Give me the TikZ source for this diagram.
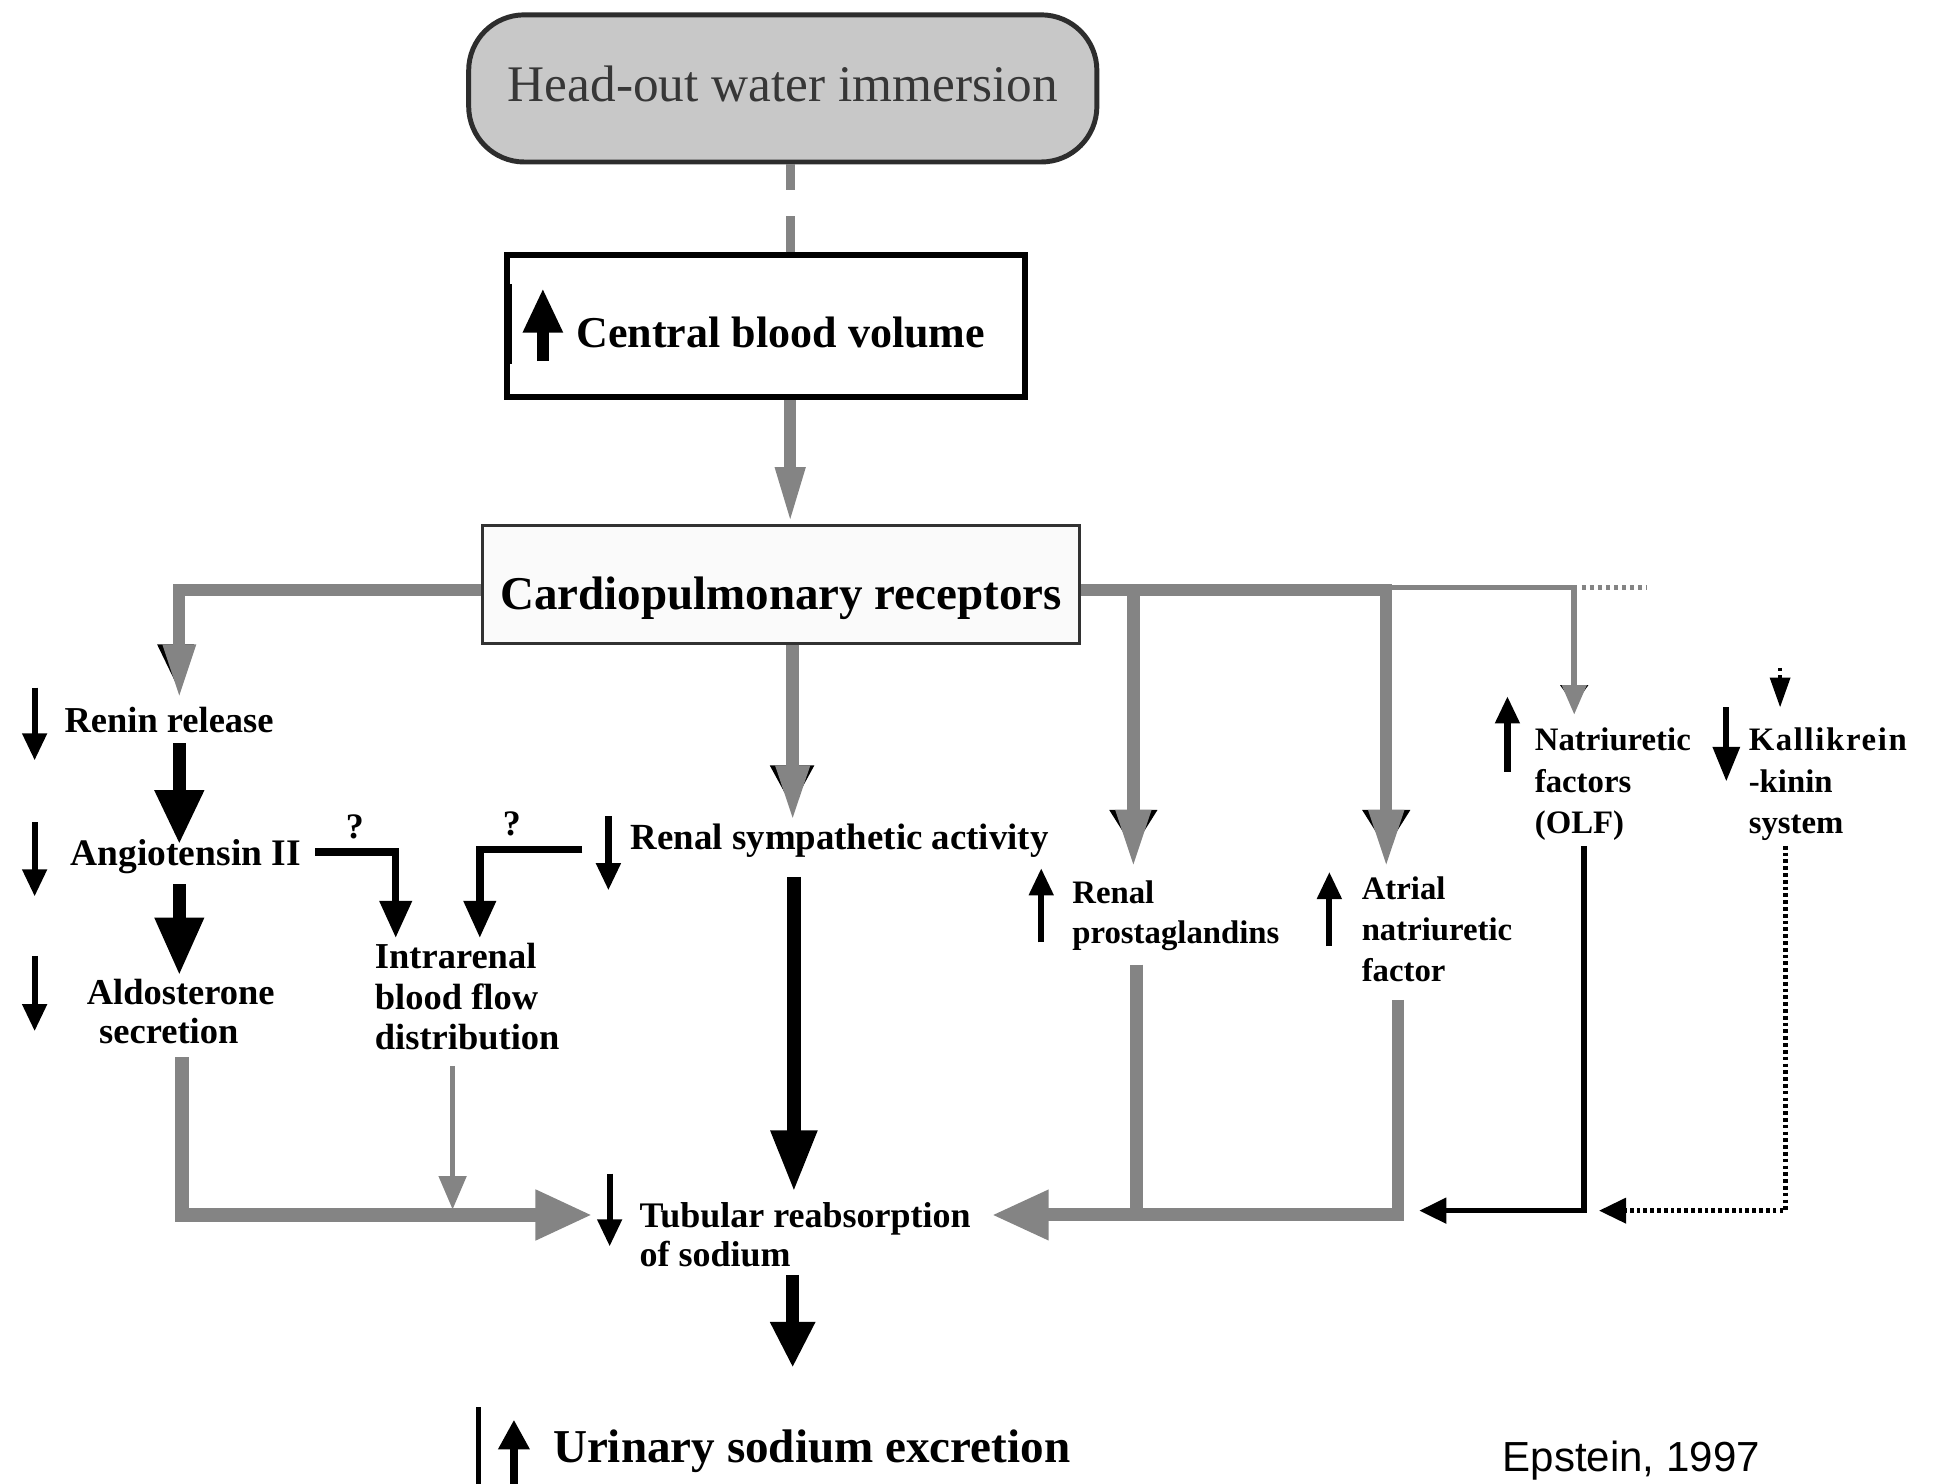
\documentclass[tikz,border=0pt]{standalone}
\usepackage{fontspec}
\setmainfont{Liberation Serif}
\newfontfamily\epsfont{Liberation Sans}
\usetikzlibrary{arrows.meta}
\definecolor{gcol}{RGB}{132,132,132}
\definecolor{headfill}{RGB}{200,200,200}
\definecolor{headbd}{RGB}{45,45,45}
\definecolor{headtxt}{RGB}{55,55,55}
\definecolor{cardbd}{RGB}{50,50,50}
\definecolor{cardfill}{RGB}{250,250,250}
\newcommand\mlines[1]{\begin{tabular}[t]{@{}l@{}}#1\end{tabular}}
\newcommand\fsz[2]{\fontsize{#1}{#2}\selectfont}
\begin{document}
\begin{tikzpicture}[x=1pt,y=-1pt,
  lbl/.style={inner sep=0pt, anchor=base west, font=\bfseries\fsz{29.5}{33}},
  rlbl/.style={lbl, font=\bfseries\fsz{26.5}{33.5}},
  ind/.style={draw=black, line width=5pt, -{Triangle[width=19pt,length=22pt]}},
  gline/.style={draw=gcol, line width=10pt},
  bline/.style={draw=black, line width=11pt},
  thinb/.style={draw=black, line width=6pt, -{Triangle[width=25pt,length=30pt]}}
]
\useasboundingbox (0,0) rectangle (1568,1200);

% ---------- boxes ----------
\node[draw=headbd, line width=4pt, fill=headfill, rounded corners=45pt,
      minimum width=508pt, minimum height=119pt, inner sep=0pt,
      text height=30pt, text depth=9.6pt, font=\fsz{41.5}{45}, text=headtxt]
      (head) at (633,71.5) {Head-out water immersion};
\node[draw=black, line width=4.5pt, minimum width=419pt, minimum height=115pt, inner sep=0pt]
      (cbv) at (619.5,263.75) {};
\fill[black] (408,230) rectangle (414,294);
\draw[black, line width=10pt, -{Triangle[width=30pt,length=36pt]}] (439,292) -- (439,233);
\node[lbl, font=\bfseries\fsz{35.6}{40}] (cbvt) at (466,281) {Central blood volume};
\node[draw=cardbd, line width=2.5pt, fill=cardfill, minimum width=483pt, minimum height=95pt,
      inner sep=0pt, text height=48pt, text depth=7pt, font=\bfseries\fsz{38}{42}]
      (cardio) at (631.5,472.5) {Cardiopulmonary receptors};

% ---------- labels ----------
\node[lbl] (renin) at (52,592) {Renin release};
\node[lbl, font=\bfseries\fsz{30.3}{33}] (angio) at (57,700) {Angiotensin II};
\node[lbl, font=\bfseries\fsz{29.5}{32}] (aldo) at (70,812) {\mlines{Aldosterone\\\hspace*{10pt}secretion}};
\node[lbl] (intra) at (303,783) {\mlines{Intrarenal\\blood flow\\distribution}};
\node[lbl, font=\bfseries\fsz{29.8}{33}] (rsa) at (510,687) {Renal sympathetic activity};
\node[rlbl, font=\bfseries\fsz{26.5}{32}] (prost) at (867,731) {\mlines{Renal\\prostaglandins}};
\node[rlbl] (anf) at (1101,727) {\mlines{Atrial\\natriuretic\\factor}};
\node[rlbl] (olf) at (1241,607) {\mlines{Natriuretic\\factors\\(OLF)}};
\node[rlbl] (kal) at (1414,607) {\mlines{{\addfontfeature{LetterSpace=5}Kallikrein}\\-kinin\\system}};
\node[lbl, font=\bfseries\fsz{29.1}{31.5}] (tub) at (517,993) {\mlines{Tubular reabsorption\\of sodium}};
\node[lbl, font=\bfseries\fsz{38.1}{42}] (uri) at (447,1183) {Urinary sodium excretion};
\node[lbl, anchor=base, font=\bfseries\fsz{29}{30}] (q1) at (287,678) {?};
\node[lbl, anchor=base, font=\bfseries\fsz{29}{30}] (q2) at (414,676) {?};
\node[inner sep=0pt, anchor=base west, font=\epsfont\fsz{34}{40}] (eps) at (1215,1190) {Epstein, 1997};

% ---------- indicator arrows ----------
\draw[ind] (28,556) -- (28,615);
\draw[ind] (28,665) -- (28,725);
\draw[ind] (28,773) -- (28,834);
\draw[ind] (492,660) -- (492,720);
\draw[ind] (493,949) -- (493,1008);
\draw[ind] (842,762) -- (842,702);
\draw[ind] (1075,765) -- (1075,705);
\draw[ind] (1219,624) -- (1219,563);
\draw[ind, -{Triangle[width=21pt,length=28pt]}] (1396,572) -- (1396,632);
\fill[black] (384.6,1138) rectangle (388.6,1200);
\draw[black, line width=7pt, -{Triangle[width=24pt,length=24pt]}] (415.6,1200) -- (415.6,1148);

% ---------- coordinates ----------
\coordinate (xc) at (639,0);
\coordinate (reninTip) at (145,566);
\coordinate (rsaTip) at (641,664.5);
\coordinate (prostBr) at (916.5,477);
\coordinate (prostTip) at (916.5,702);
\coordinate (anfTip) at (1121,702);
\coordinate (anfBr) at (1121,475);
\coordinate (olfTip) at (1273,578);
\coordinate (olfBr) at (1273,475);
\coordinate (dotEnd) at (1332,475);
\coordinate (raS) at (145,601);
\coordinate (raT) at (145,683);
\coordinate (adS) at (145,715);
\coordinate (adT) at (145,789);
\coordinate (aiS) at (255,689);
\coordinate (aiT) at (320,758.5);
\coordinate (siS) at (471,687);
\coordinate (siT) at (388,758.5);
\coordinate (rtS) at (642,709);
\coordinate (rtT) at (642,964);
\coordinate (alS) at (147,855);
\coordinate (leftTip) at (479,982.5);
\coordinate (irS) at (366,862);
\coordinate (irT) at (366,978);
\coordinate (pgS) at (919,780);
\coordinate (pgE) at (919,982.5);
\coordinate (anS) at (1130.5,808.5);
\coordinate (rightTip) at (802,982.5);
\coordinate (olS) at (1281,684);
\coordinate (olT) at (1147.6,979);
\coordinate (kaS) at (1444,684);
\coordinate (kaT) at (1293,979);
\coordinate (kaInS) at (1439.5,540);
\coordinate (kaInT) at (1439.5,572);
\coordinate (tuS) at (641,1031);
\coordinate (tuT) at (641,1106);

% ---------- top connectors ----------
\draw[gcol, line width=7pt] (head.south -| xc) -- ++(0,21);
\draw[gcol, line width=7pt] (cbv.north -| xc) -- ++(0,-29);
\draw[gcol, line width=9.5pt, -{Triangle[width=22pt,length=46pt]}] (cbv.south -| xc) -- (cardio.north -| xc);

% black shadow heads
\fill[black] (127,521) -- (157,521) -- (142,552) -- cycle;
\fill[black] (622.5,619) -- (658.5,619) -- (640.5,652) -- cycle;
\fill[black] (897,655) -- (936,655) -- (916.5,686) -- cycle;
\fill[black] (1101.5,655) -- (1140.5,655) -- (1121,686) -- cycle;
\fill[black] (1261.5,554) -- (1284.5,554) -- (1273,570) -- cycle;

% cardiopulmonary branches
\draw[gline, -{Triangle[width=24pt,length=45pt]}] ([yshift=-4.5pt]cardio.west) -| (reninTip);
\draw[gline, -{Triangle[width=25pt,length=45.5pt]}] (cardio.south -| rsaTip) -- (rsaTip);
\draw[gline, -{Triangle[width=26pt,length=47pt]}] ([yshift=-4.5pt]cardio.east) -| (anfTip);
\draw[gline, -{Triangle[width=26pt,length=47pt]}] (prostBr) -- (prostTip);
\draw[gline, line width=4.5pt, -{Triangle[width=19pt,length=24pt]}] (anfBr) -| (olfTip);
\draw[gcol, line width=4pt, dash pattern=on 3.5pt off 3pt] ([xshift=6pt]olfBr) -- (dotEnd);

% left cascade
\draw[bline, -{Triangle[width=37pt,length=44pt]}] (raS) -- (raT);
\draw[bline, -{Triangle[width=37pt,length=47pt]}] (adS) -- (adT);
\draw[thinb] (aiS) -| (aiT);
\draw[thinb] (siS) -| (siT);
\draw[bline, -{Triangle[width=35pt,length=50pt]}] (rtS) -- (rtT);

% into tubular reabsorption
\draw[gcol, line width=11pt, -{Triangle[width=38pt,length=46pt]}] (alS) |- (leftTip);
\draw[gcol, line width=3.5pt, -{Triangle[width=22pt,length=27pt]}] (irS) -- (irT);
\draw[gcol, line width=10pt] (pgS) -- (pgE);
\draw[gcol, line width=10.5pt, -{Triangle[width=38pt,length=46pt]}] (anS) |- (rightTip);
\draw[black, line width=4.5pt, -{Triangle[width=20pt,length=22pt]}] (olS) |- (olT);
\draw[black, line width=4pt, dash pattern=on 3pt off 2.5pt, -{Triangle[width=20pt,length=22pt]}] (kaS) |- (kaT);
\draw[black, line width=3pt, dash pattern=on 3pt off 3pt, -{Triangle[width=16pt,length=24pt]}] (kaInS) -- (kaInT);

% to urinary excretion
\draw[bline, -{Triangle[width=34pt,length=37pt]}] (tuS) -- (tuT);
\end{tikzpicture}
\end{document}
